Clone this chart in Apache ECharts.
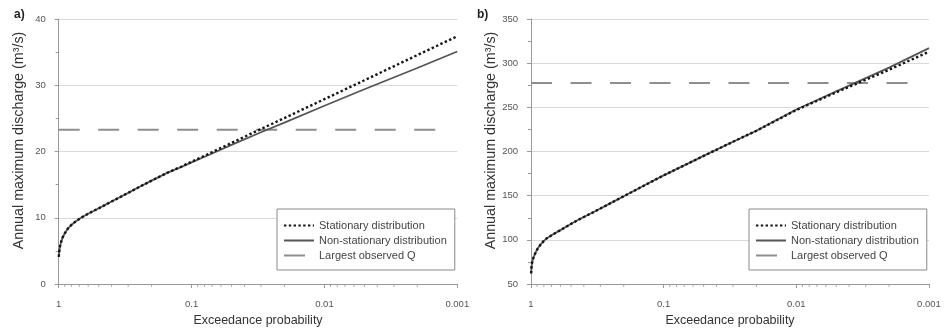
<!DOCTYPE html>
<html><head><meta charset="utf-8">
<script src="https://cdn.jsdelivr.net/npm/echarts@6/dist/echarts.min.js"></script>
<style>html,body{margin:0;padding:0;background:#fff}#c{width:946px;height:329px}</style>
</head><body><div id="c"></div>
<script>
// ---- data ----
const probA = [0.998,0.995,0.99,0.984,0.978,0.965,0.95,0.935,0.92,0.9,0.88,0.85,0.8,0.75,0.68,0.6,0.52,0.45,0.4,0.35,0.3,0.25,0.2,0.15,0.12,0.1,0.07,0.05,0.03,0.02,0.01,0.005,0.002,0.001];
const stationaryA = [4.1,4.5,4.95,5.3,5.65,6.15,6.6,7.0,7.3,7.65,7.95,8.4,8.95,9.4,10.0,10.6,11.25,11.9,12.45,13.05,13.75,14.6,15.6,16.85,17.7,18.45,19.9,21.3,23.4,25.05,27.9,30.75,34.55,37.4];
const nonStationaryA = [4.1,4.5,4.95,5.3,5.65,6.15,6.6,7.0,7.3,7.65,7.95,8.4,8.95,9.4,10.0,10.6,11.25,11.9,12.45,13.05,13.75,14.6,15.6,16.85,17.65,18.35,19.7,21.0,22.9,24.35,26.9,29.4,32.6,35.1];
const probB = [0.998,0.995,0.99,0.983,0.972,0.96,0.945,0.928,0.91,0.89,0.851,0.8,0.758,0.68,0.6,0.52,0.45,0.4,0.337,0.3,0.253,0.2,0.15,0.12,0.1,0.07,0.05,0.03,0.02,0.01,0.005,0.002,0.001];
const stationaryB = [62,65.5,69.5,73.4,76.8,79.4,82.2,84.9,87.6,90.1,94.2,98.8,101.9,106.3,111,116.5,121.8,125.8,131.5,135.4,141.3,149.3,159.2,166.8,173,184.3,195,211,223.5,247,267,292.5,313];
const nonStationaryB = [62,65.5,69.5,73.4,76.8,79.4,82.2,84.9,87.6,90.1,94.2,98.8,101.9,106.3,111,116.5,121.8,125.8,131.5,135.4,141.3,149.3,159.2,166.8,173,184.3,195,211,223.5,247.5,268,295,317];
const largestObservedA = 23.3;
const largestObservedB = 277.5;
const observedSpan = [1, 0.0014];
const xMajorTicks = [1, 0.1, 0.01, 0.001];
const xMinorTicks = [0.9,0.8,0.7,0.6,0.5,0.4,0.3,0.2,0.09,0.08,0.07,0.06,0.05,0.04,0.03,0.02,0.009,0.008,0.007,0.006,0.005,0.004,0.003,0.002];
const yRangeA = [0, 40, 10];
const yRangeB = [50, 350, 50];
const seriesNames = ['Stationary distribution', 'Non-stationary distribution', 'Largest observed Q'];
const panelLabels = ['a)', 'b)'];
const xTitle = 'Exceedance probability';
const yTitle = 'Annual maximum discharge (m³/s)';

// ---- styling ----
const FONT = 'Liberation Sans, Arial, sans-serif';
const axisGray = '#9a9a9a';
const gridGray = '#d9d9d9';
const styles = [
  { color: '#151515', width: 2.4, type: [2.4, 2.4] },
  { color: '#555555', width: 1.8, type: 'solid' },
  { color: '#8e8e8e', width: 2, type: [21, 18.5] }
];

const pair = (xs, ys) => xs.map((x, i) => [x, ys[i]]);

function xAxisFor(gi) {
  return {
    type: 'log', logBase: 10, gridIndex: gi, min: 0.001, max: 1, inverse: true,
    name: xTitle, nameLocation: 'middle', nameGap: 24,
    nameTextStyle: { fontFamily: FONT, fontSize: 12.5, color: '#333' },
    axisLine: { lineStyle: { color: axisGray, width: 1 } },
    axisTick: { show: true, length: 4, lineStyle: { color: axisGray } },
    minorTick: { show: false },
    splitLine: { show: false },
    axisLabel: { margin: 15, fontFamily: FONT, fontSize: 9.5, color: '#555',
      formatter: v => { const r = xMajorTicks.find(t => Math.abs(Math.log10(t) - Math.log10(v)) < 1e-6); return r !== undefined ? String(r) : ''; } }
  };
}
function yAxisFor(gi, rng) {
  return {
    type: 'value', gridIndex: gi, min: rng[0], max: rng[1], interval: rng[2],
    name: yTitle, nameLocation: 'middle', nameGap: 33,
    nameTextStyle: { fontFamily: FONT, fontSize: 14.3, color: '#333', padding: [0, 0, 0, 22] },
    axisLine: { show: true, lineStyle: { color: axisGray, width: 1 } },
    axisTick: { show: true, length: 4, lineStyle: { color: axisGray } },
    minorTick: { show: true, splitNumber: 2, length: 3, lineStyle: { color: axisGray } },
    splitLine: { show: true, lineStyle: { color: gridGray, width: 1 } },
    axisLabel: { margin: 13, fontFamily: FONT, fontSize: 9.5, color: '#555' }
  };
}
function panelSeries(gi, prob, stat, nonstat, observed, yMin) {
  return [
    { type: 'scatter', xAxisIndex: gi, yAxisIndex: gi, silent: true, clip: false, z: 1,
      data: xMinorTicks.map(p => [p, yMin]), symbol: 'rect', symbolSize: [1, 3], symbolOffset: [0, 1.5],
      itemStyle: { color: axisGray }, legendHoverLink: false },
    { type: 'line', name: seriesNames[2], xAxisIndex: gi, yAxisIndex: gi, showSymbol: false, symbol: 'none', z: 2,
      data: observedSpan.map(p => [p, observed]),
      lineStyle: styles[2], itemStyle: { color: styles[2].color } },
    { type: 'line', name: seriesNames[1], xAxisIndex: gi, yAxisIndex: gi, showSymbol: false, symbol: 'none', z: 3,
      smooth: false, data: pair(prob, nonstat),
      lineStyle: styles[1], itemStyle: { color: styles[1].color } },
    { type: 'line', name: seriesNames[0], xAxisIndex: gi, yAxisIndex: gi, showSymbol: false, symbol: 'none', z: 4,
      smooth: false, data: pair(prob, stat),
      lineStyle: styles[0], itemStyle: { color: styles[0].color } }
  ];
}
function legendFor(left) {
  return {
    left: left, top: 209, orient: 'vertical',
    data: seriesNames,
    backgroundColor: '#fff', borderColor: '#8a8a8a', borderWidth: 1,
    padding: [11, 8, 9, 6], itemWidth: 30, itemHeight: 10, itemGap: 4,
    itemStyle: { color: 'rgba(0,0,0,0)', borderColor: 'rgba(0,0,0,0)', borderWidth: 0 },
    textStyle: { fontFamily: FONT, fontSize: 11, color: '#444' },
    selectedMode: false
  };
}

const chart = echarts.init(document.getElementById('c'), null, { renderer: 'canvas' });
chart.setOption({
  animation: false,
  backgroundColor: '#fff',
  grid: [
    { left: 58.7, top: 19, width: 398.6, height: 265, containLabel: false, outerBoundsMode: 'none' },
    { left: 531, top: 19, width: 398, height: 265, containLabel: false, outerBoundsMode: 'none' }
  ],
  xAxis: [xAxisFor(0), xAxisFor(1)],
  yAxis: [yAxisFor(0, yRangeA), yAxisFor(1, yRangeB)],
  legend: [legendFor(277), legendFor(749)],
  series: [
    ...panelSeries(0, probA, stationaryA, nonStationaryA, largestObservedA, yRangeA[0]),
    ...panelSeries(1, probB, stationaryB, nonStationaryB, largestObservedB, yRangeB[0])
  ],
  graphic: [
    { type: 'text', left: 14, top: 9, style: { text: panelLabels[0], font: 'bold 12px ' + FONT, fill: '#222' } },
    { type: 'text', left: 477, top: 9, style: { text: panelLabels[1], font: 'bold 12px ' + FONT, fill: '#222' } }
  ]
});
</script></body></html>
